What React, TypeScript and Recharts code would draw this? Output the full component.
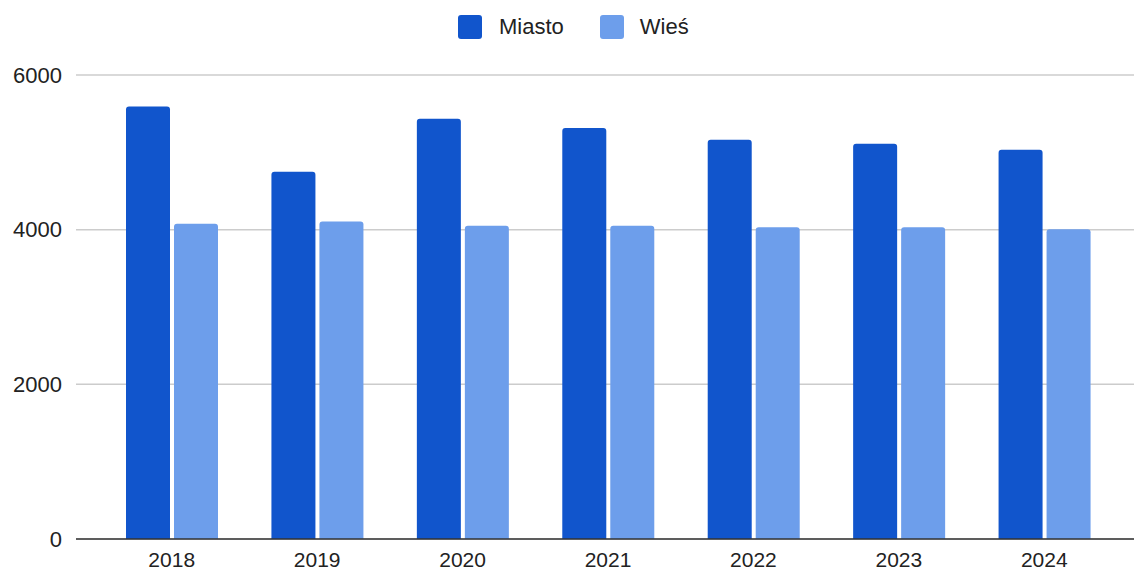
import React from 'react';
import { BarChart, Bar, XAxis, YAxis, CartesianGrid, Legend } from 'recharts';

const years = ['2018', '2019', '2020', '2021', '2022', '2023', '2024'];
const miasto = [5594, 4750, 5435, 5315, 5163, 5112, 5034];
const wies = [4077, 4107, 4051, 4051, 4030, 4030, 4005];
const yTicks = [0, 2000, 4000, 6000];

const seriesNames = { miasto: 'Miasto', wies: 'Wieś' };
const colors = { miasto: '#1155CC', wies: '#6D9EEB' };

const data = years.map((y, i) => ({ year: y, miasto: miasto[i], wies: wies[i] }));

const FONT = '"Liberation Sans", Arial, sans-serif';

const LegendContent = () => (
  <div style={{ display: 'flex', alignItems: 'center', height: 26, marginLeft: 458, fontFamily: FONT, fontSize: 22, color: '#222' }}>
    <span style={{ width: 24, height: 24, borderRadius: 3, background: colors.miasto, display: 'inline-block' }} />
    <span style={{ marginLeft: 17, marginRight: 36 }}>{seriesNames.miasto}</span>
    <span style={{ width: 24, height: 24, borderRadius: 3, background: colors.wies, display: 'inline-block' }} />
    <span style={{ marginLeft: 16 }}>{seriesNames.wies}</span>
  </div>
);

export default function App() {
  return (
    <div style={{ position: 'absolute', left: 0, top: 0, width: 1134, height: 572, background: '#fff' }}>
      <BarChart
        width={1134}
        height={572}
        data={data}
        margin={{ top: 49, right: 0, bottom: 0, left: 0 }}
        barGap={4}
        barSize={44}
      >
        <CartesianGrid vertical={false} stroke="#cccccc" strokeWidth={1.5} />
        <XAxis
          dataKey="year"
          height={33}
          padding={{ left: 23, right: 17 }}
          tickLine={false}
          tickSize={0}
          tickMargin={13}
          axisLine={{ stroke: '#333', strokeWidth: 1.5 }}
          tick={{ fill: '#222', fontSize: 21, fontFamily: FONT }}
        />
        <YAxis
          width={76}
          domain={[0, 6000]}
          ticks={yTicks}
          tickLine={false}
          axisLine={false}
          tickSize={0}
          tickMargin={14}
          tick={{ fill: '#222', fontSize: 22, fontFamily: FONT }}
        />
        <Legend verticalAlign="top" height={26} wrapperStyle={{ top: 14, left: 0, width: 1134 }} content={<LegendContent />} />
        <Bar dataKey="miasto" name={seriesNames.miasto} fill={colors.miasto} radius={[3, 3, 0, 0]} isAnimationActive={false} />
        <Bar dataKey="wies" name={seriesNames.wies} fill={colors.wies} radius={[3, 3, 0, 0]} isAnimationActive={false} />
      </BarChart>
    </div>
  );
}
